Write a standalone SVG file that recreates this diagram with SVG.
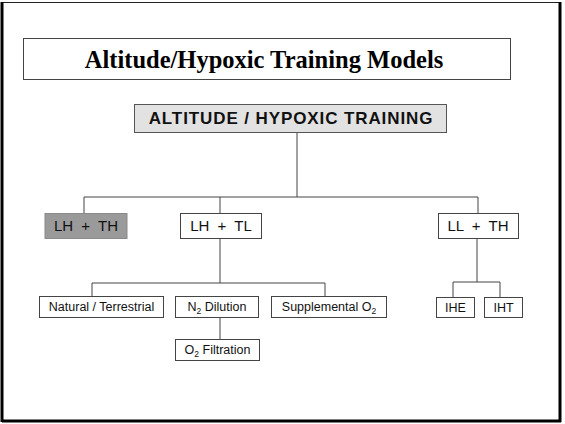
<svg xmlns="http://www.w3.org/2000/svg" width="565" height="424" viewBox="0 0 565 424">
<style>
.box{fill:#fff;stroke:#444;stroke-width:1}
.t{font-family:"Liberation Sans",Arial,sans-serif;fill:#111;text-anchor:middle}
.s{font-size:12.5px}
.m{font-size:15px;word-spacing:4px}
.ln{stroke:#444;stroke-width:1;fill:none}
.sub{font-size:8.5px}
</style>
<rect width="565" height="424" fill="#fff"/>
<g id="frame">
<rect x="2" y="2.5" width="558" height="418" fill="none" stroke="#222" stroke-width="1"/>
<line x1="2" y1="2" x2="2" y2="422" stroke="#000" stroke-width="3"/>
<line x1="560" y1="2" x2="560" y2="422" stroke="#000" stroke-width="3"/>
<line x1="2" y1="421" x2="561" y2="421" stroke="#000" stroke-width="3"/>
</g>
<g id="title">
<rect class="box" x="23.5" y="38.5" width="487" height="41"/>
<text x="264" y="68" font-family="'Liberation Serif','Times New Roman',serif" font-weight="bold" font-size="24.5" text-anchor="middle" fill="#000">Altitude/Hypoxic Training Models</text>
</g>
<g id="connectors" class="ln">
<line x1="297" y1="133" x2="297" y2="197"/>
<polyline points="84,213 84,197 478,197 478,213"/>
<line x1="220" y1="197" x2="220" y2="213"/>
<line x1="220" y1="238" x2="220" y2="283"/>
<polyline points="92,296 92,283 325,283 325,296"/>
<line x1="220" y1="317" x2="220" y2="339"/>
<line x1="477" y1="238" x2="477" y2="282"/>
<polyline points="453,297 453,282 500,282 500,297"/>
</g>
<g id="root">
<rect x="134.5" y="104.5" width="312" height="28" fill="#e2e2e2" stroke="#555"/>
<text class="t" x="291" y="124" font-size="17" font-weight="bold" letter-spacing="0.9" fill="#000">ALTITUDE / HYPOXIC TRAINING</text>
</g>
<g id="lhth">
<rect x="45" y="213.5" width="82" height="25" fill="#9a9a9a" stroke="#8a8a8a"/>
<text class="t m" x="86" y="231" fill="#333">LH + TH</text>
</g>
<g id="lhtl">
<rect class="box" x="180.5" y="213.5" width="81" height="25"/>
<text class="t m" x="221" y="231">LH + TL</text>
</g>
<g id="llth">
<rect class="box" x="438.5" y="213.5" width="80" height="25"/>
<text class="t m" x="478" y="231">LL + TH</text>
</g>
<g id="natural">
<rect class="box" x="39.5" y="296.5" width="124" height="21"/>
<text class="t s" x="101.5" y="311">Natural / Terrestrial</text>
</g>
<g id="n2dilution">
<rect class="box" x="175.5" y="296.5" width="83" height="21"/>
<text class="t s" x="217" y="311">N<tspan class="sub" dy="3">2</tspan><tspan dy="-3"> Dilution</tspan></text>
</g>
<g id="supplemental">
<rect class="box" x="271.5" y="296.5" width="115" height="21"/>
<text class="t s" x="329" y="311">Supplemental O<tspan class="sub" dy="3">2</tspan></text>
</g>
<g id="o2filtration">
<rect class="box" x="175.5" y="339.5" width="84" height="21"/>
<text class="t s" x="217.5" y="354">O<tspan class="sub" dy="3">2</tspan><tspan dy="-3"> Filtration</tspan></text>
</g>
<g id="ihe">
<rect class="box" x="436.5" y="297.5" width="38" height="20"/>
<text class="t s" x="455.5" y="312">IHE</text>
</g>
<g id="iht">
<rect class="box" x="484.5" y="297.5" width="38" height="20"/>
<text class="t s" x="503.5" y="312">IHT</text>
</g>
</svg>
